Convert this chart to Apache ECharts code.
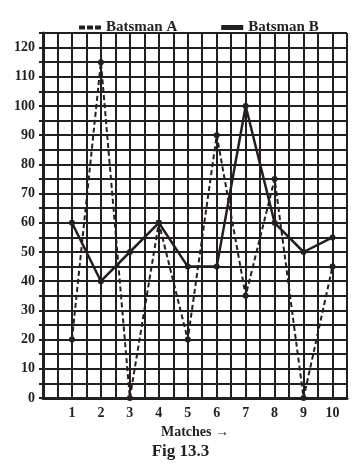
<!DOCTYPE html>
<html lang="en">
<head>
    <meta charset="UTF-8">
    <title>Fig 13.3</title>
    <style>
        body{ margin:0; background:#fff; }
        #main{ width:361px; height:469px; }
    </style>
</head>
<body>
<div id="main"></div>
<script src="https://cdn.jsdelivr.net/npm/echarts@6/dist/echarts.min.js"></script>
<script>
    // data
    var matches = [1, 2, 3, 4, 5, 6, 7, 8, 9, 10];
    var runsA = [20, 115, 0, 60, 20, 90, 35, 75, 0, 45];
    var runsB = [60, 40, 50, 60, 45, 45, 100, 60, 50, 55];
    var yLabels = [0, 10, 20, 30, 40, 50, 60, 70, 80, 90, 100, 110, 120];

    var font = 'Liberation Serif';
    var ink = '#231f20';

    function pairs(vals) {
        return matches.map(function (m, i) { return [m, vals[i]]; });
    }

    var chart = echarts.init(document.getElementById('main'));
    var option = {
        animation: false,
        grid: { left: 43, right: 14, top: 33, bottom: 71, containLabel: false, outerBoundsMode: 'none' },
        legend: {
            left: 74, top: 15,
            itemWidth: 22, itemHeight: 5, itemGap: 44,
            textStyle: { fontFamily: font, fontWeight: 'bold', fontSize: 15, color: ink },
            data: [
                { name: 'Batsman A', icon: 'path://M0,0h6v4h-6z M8,0h6v4h-6z M16,0h6v4h-6z', itemStyle: { color: ink } },
                { name: 'Batsman B', icon: 'rect', itemStyle: { color: ink } }
            ]
        },
        xAxis: {
            type: 'value', min: 0, max: 10.5, interval: 0.5,
            name: 'Matches →', nameLocation: 'middle', nameGap: 23,
            nameTextStyle: { fontFamily: font, fontWeight: 'bold', fontSize: 14, color: ink },
            axisLine: { lineStyle: { color: ink, width: 3 } },
            axisTick: { show: false },
            axisLabel: {
                margin: 8, fontFamily: font, fontWeight: 'bold', fontSize: 14, color: ink,
                formatter: function (v) { return (v > 0 && v <= 10 && v % 1 === 0) ? String(v) : ''; }
            },
            splitLine: { lineStyle: { color: ink, width: 2 } }
        },
        yAxis: {
            type: 'value', min: 0, max: 125, interval: 5,
            name: 'Runs scored →', nameLocation: 'middle', nameGap: 31, nameRotate: 90,
            nameTextStyle: { fontFamily: font, fontWeight: 'bold', fontSize: 14, color: ink },
            axisLine: { show: true, lineStyle: { color: ink, width: 3 } },
            axisTick: { show: true, length: 4, lineStyle: { color: ink, width: 2 } },
            axisLabel: {
                margin: 8, fontFamily: font, fontWeight: 'bold', fontSize: 14, color: ink,
                formatter: function (v) { return yLabels.indexOf(v) >= 0 ? String(v) : ''; }
            },
            splitLine: { lineStyle: { color: ink, width: 2 } }
        },
        series: [
            {
                name: 'Batsman A', type: 'line', data: pairs(runsA),
                symbol: 'circle', symbolSize: 6,
                itemStyle: { color: ink },
                lineStyle: { color: ink, width: 2, type: [5, 3] }
            },
            {
                name: 'Batsman B', type: 'line', data: pairs(runsB),
                symbol: 'circle', symbolSize: 6,
                itemStyle: { color: ink },
                lineStyle: { color: ink, width: 2.5 }
            }
        ],
        graphic: [{
            type: 'text', left: 'center', top: 443,
            style: { text: 'Fig 13.3', fontFamily: font, fontWeight: 'bold', fontSize: 17, fill: ink }
        }]
    };
    chart.setOption(option);
</script>
</body>
</html>
